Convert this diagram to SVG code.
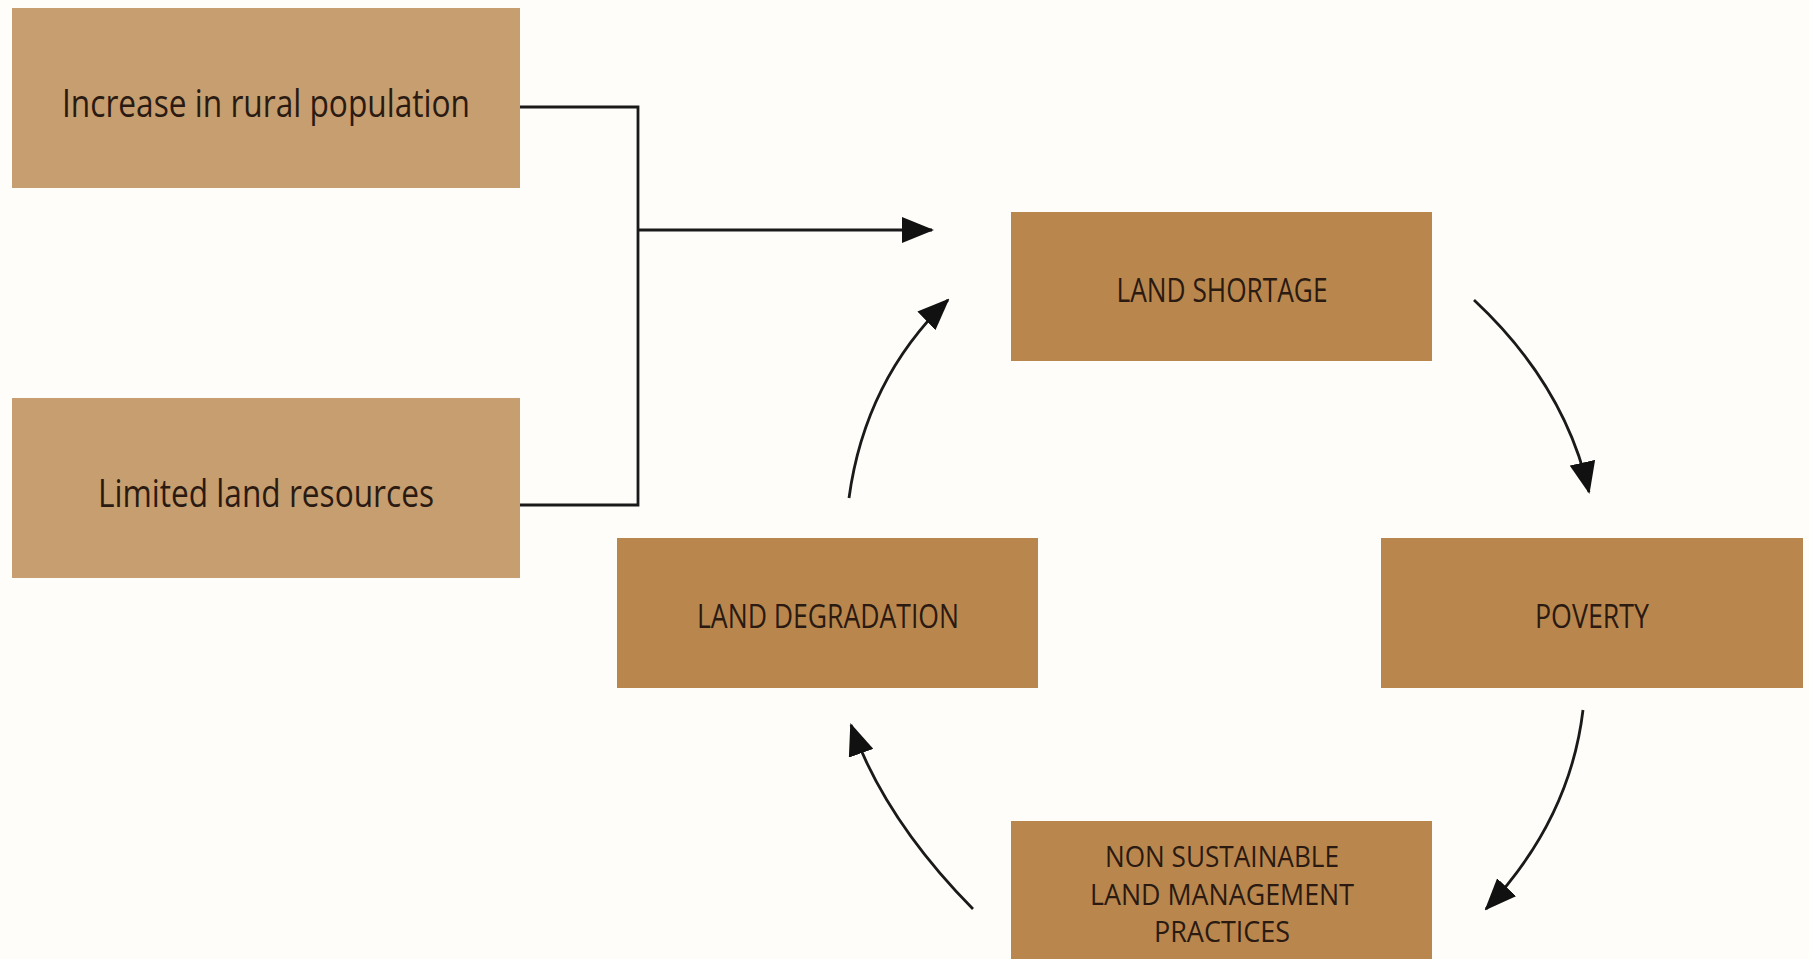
<svg xmlns="http://www.w3.org/2000/svg" width="1809" height="959" viewBox="0 0 1809 959">
<style>
.light{fill:#C69E6F}
.dark{fill:#B9874D}
.t1{font-family:"Open Sans","Liberation Sans",sans-serif;font-size:38px;fill:#2a1a12;text-anchor:middle}
.t2{font-family:"Open Sans","Liberation Sans",sans-serif;font-size:32px;fill:#2a1a12;text-anchor:middle}
.t3{font-family:"Open Sans","Liberation Sans",sans-serif;font-size:29px;fill:#2a1a12;text-anchor:middle}
.ln{fill:none;stroke:#1a1a1a;stroke-width:2.8}
</style>
<defs>
<marker id="ah" markerUnits="userSpaceOnUse" markerWidth="32" markerHeight="26" viewBox="0 0 32 26" refX="30" refY="13" orient="auto">
<path d="M0,0 L32,13 L0,26 Z" fill="#111"/>
</marker>
</defs>
<rect width="1809" height="959" fill="#FFFDF9"/>
<g id="increase">
<rect class="light" x="12" y="8" width="508" height="180"/>
<text class="t1" x="266" y="117" textLength="408" lengthAdjust="spacingAndGlyphs">Increase in rural population</text>
</g>
<g id="limited">
<rect class="light" x="12" y="398" width="508" height="180"/>
<text class="t1" x="266" y="507" textLength="336" lengthAdjust="spacingAndGlyphs">Limited land resources</text>
</g>
<g id="shortage">
<rect class="dark" x="1011" y="212" width="421" height="149"/>
<text class="t2" x="1222" y="302" textLength="211" lengthAdjust="spacingAndGlyphs">LAND SHORTAGE</text>
</g>
<g id="poverty">
<rect class="dark" x="1381" y="538" width="422" height="150"/>
<text class="t2" x="1592" y="628" textLength="114" lengthAdjust="spacingAndGlyphs">POVERTY</text>
</g>
<g id="degradation">
<rect class="dark" x="617" y="538" width="421" height="150"/>
<text class="t2" x="828" y="628" textLength="262" lengthAdjust="spacingAndGlyphs">LAND DEGRADATION</text>
</g>
<g id="nonsustainable">
<rect class="dark" x="1011" y="821" width="421" height="138"/>
<text class="t3" x="1222" y="867" textLength="234" lengthAdjust="spacingAndGlyphs">NON SUSTAINABLE</text>
<text class="t3" x="1222" y="905" textLength="264" lengthAdjust="spacingAndGlyphs">LAND MANAGEMENT</text>
<text class="t3" x="1222" y="942" textLength="136" lengthAdjust="spacingAndGlyphs">PRACTICES</text>
</g>
<g id="connectors">
<path class="ln" d="M520,107 H638 V505 H520"/>
<path class="ln" d="M638,230 H932" marker-end="url(#ah)"/>
<path class="ln" d="M1474,300 Q1565,385 1589,492" marker-end="url(#ah)"/>
<path class="ln" d="M1583,710 Q1570,820 1486,909" marker-end="url(#ah)"/>
<path class="ln" d="M973,909 Q885,820 851,725" marker-end="url(#ah)"/>
<path class="ln" d="M849,498 Q865,380 948,300" marker-end="url(#ah)"/>
</g>
</svg>
